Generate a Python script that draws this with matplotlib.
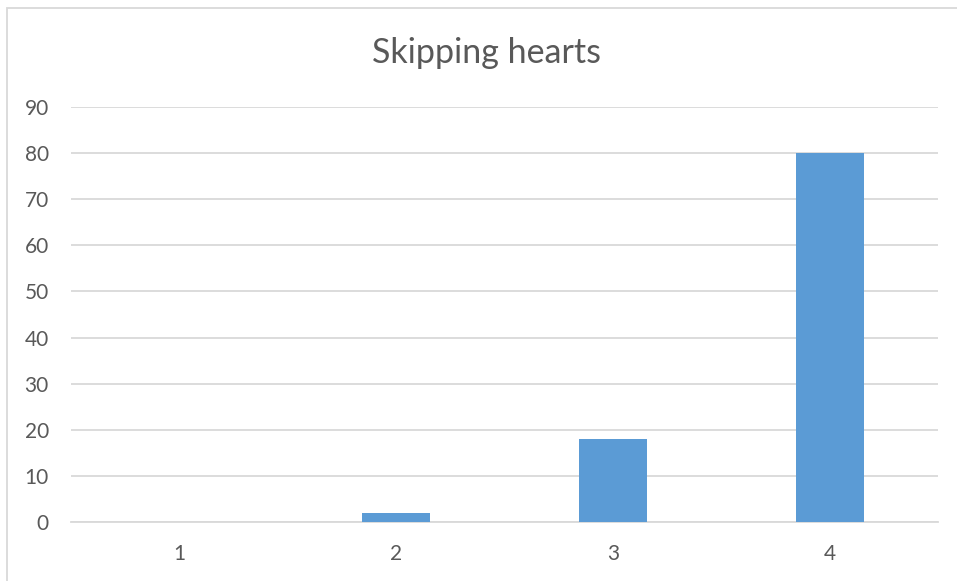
import matplotlib.pyplot as plt
from matplotlib.patches import Rectangle

# Chart data
categories = ['1', '2', '3', '4']
values = [0, 2, 18, 80]
title = 'Skipping hearts'

plt.rcParams['font.family'] = ['Lato', 'DejaVu Sans']

fig = plt.figure(figsize=(9.57, 5.81), dpi=100)
ax = fig.add_axes([71/957, 1 - 522/581, (938 - 71)/957, (522 - 107)/581])

# Chart border, like the Excel chart area
fig.patches.append(Rectangle((7/957, -0.01), 1.0, 1 - 8/581 + 0.01, transform=fig.transFigure,
                             fill=False, edgecolor='#d9d9d9', linewidth=1.3))

x = range(len(categories))
ax.bar(x, values, width=0.314, color='#5b9bd5', zorder=3)

ax.set_xlim(-0.5, len(categories) - 0.5)
ax.set_ylim(0, 90)
ax.set_yticks(range(0, 91, 10))
ax.set_xticks(list(x))
ax.set_xticklabels(categories)
ax.yaxis.grid(True, color='#d9d9d9', linewidth=1.3, zorder=0)
for s in ['top', 'right', 'left']:
    ax.spines[s].set_visible(False)
ax.spines['bottom'].set_color('#d9d9d9')
ax.spines['bottom'].set_linewidth(1.3)
ax.tick_params(length=0, labelsize=15, labelcolor='#595959')
ax.tick_params(axis='y', pad=16)
ax.tick_params(axis='x', pad=16)

fig.text(487/957, 1 - 53/581, title, ha='center', va='center', fontsize=24.5, color='#595959')

fig.savefig('out.png', dpi=100)
